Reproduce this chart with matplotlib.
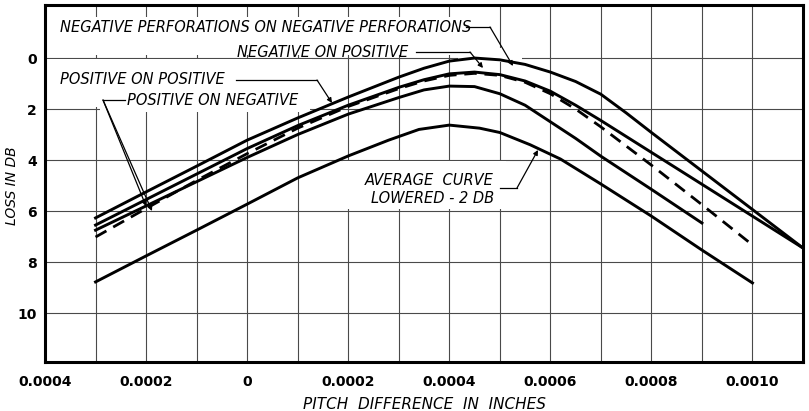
import matplotlib.pyplot as plt
from matplotlib.lines import Line2D
from matplotlib.patches import Rectangle

W, H = 809, 411

# pitch difference (inches) vs loss (dB)
neg_neg_x = [-0.0003, -0.0002, -0.0001, 0.0, 0.0001, 0.0002, 0.0003, 0.00035, 0.0004, 0.00045,
             0.0005, 0.00055, 0.0006, 0.00065, 0.0007, 0.00075, 0.0008, 0.0009, 0.001, 0.0011]
neg_neg_db = [6.27, 5.25, 4.24, 3.22, 2.35, 1.53, 0.75, 0.4, 0.12, 0.0,
              0.07, 0.25, 0.55, 0.92, 1.42, 2.15, 2.92, 4.43, 5.94, 7.45]

pos_pos_x = [-0.0003, -0.0002, -0.0001, 0.0, 0.0001, 0.0002, 0.0003, 0.00035, 0.0004, 0.00045,
             0.0005, 0.00055, 0.0006, 0.00065, 0.0007, 0.0008, 0.0009, 0.001, 0.0011]
pos_pos_db = [6.55, 5.55, 4.55, 3.55, 2.65, 1.85, 1.15, 0.85, 0.62, 0.55,
              0.65, 0.9, 1.3, 1.85, 2.45, 3.7, 4.95, 6.2, 7.45]

neg_pos_x = [-0.0003, -0.0002, -0.0001, 0.0, 0.0001, 0.0002, 0.0003, 0.00035, 0.0004, 0.00045,
             0.0005, 0.00055, 0.0006, 0.00065, 0.0007, 0.0008, 0.0009, 0.001]
neg_pos_db = [7.02, 5.9, 4.8, 3.75, 2.75, 1.9, 1.2, 0.9, 0.68, 0.6,
              0.68, 0.95, 1.4, 2.0, 2.7, 4.2, 5.75, 7.33]

pos_neg_x = [-0.0003, -0.0002, -0.0001, 0.0, 0.0001, 0.0002, 0.0003, 0.00035, 0.0004, 0.00045,
             0.0005, 0.00055, 0.0006, 0.00065, 0.0007, 0.0008, 0.0009]
pos_neg_db = [6.75, 5.8, 4.85, 3.9, 3.0, 2.2, 1.55, 1.25, 1.1, 1.12,
              1.4, 1.85, 2.5, 3.15, 3.85, 5.15, 6.47]

avg_x = [-0.0003, -0.0002, -0.0001, 0.0, 0.0001, 0.0002, 0.00028, 0.00034, 0.0004, 0.00046,
         0.0005, 0.00056, 0.00062, 0.0007, 0.0008, 0.0009, 0.001]
avg_db = [8.78, 7.76, 6.75, 5.73, 4.7, 3.84, 3.22, 2.8, 2.63, 2.75,
          2.92, 3.4, 3.96, 4.94, 6.2, 7.53, 8.82]

x_ticks = [-0.0004, -0.0002, 0.0, 0.0002, 0.0004, 0.0006, 0.0008, 0.0010]
x_tick_labels = ['0.0004', '0.0002', '0', '0.0002', '0.0004', '0.0006', '0.0008', '0.0010']
x_minor = [-0.0003, -0.0001, 0.0001, 0.0003, 0.0005, 0.0007, 0.0009, 0.0011]
y_ticks = [0, 2, 4, 6, 8, 10]
y_tick_labels = ['0', '2', '4', '6', '8', '10']


def fx(px):
    return px / W


def fy(py):
    return 1 - py / H


fig = plt.figure(figsize=(W / 100, H / 100), dpi=100)
ax = fig.add_axes([fx(45), fy(362), 758 / W, 357 / H])

ax.plot(avg_x, avg_db, color='black', lw=2.1, zorder=3)
ax.plot(pos_neg_x, pos_neg_db, color='black', lw=2.1, zorder=3)
ax.plot(neg_pos_x, neg_pos_db, color='black', lw=2.0, zorder=3, linestyle=(0, (4.5, 2.8)))
ax.plot(pos_pos_x, pos_pos_db, color='black', lw=2.1, zorder=3)
ax.plot(neg_neg_x, neg_neg_db, color='black', lw=2.1, zorder=3)

ax.set_xlim(-0.0004, 0.0011)
ax.set_ylim(11.92, -2.08)
ax.set_xticks(x_ticks, x_tick_labels)
ax.set_xticks(x_minor, minor=True)
ax.set_yticks(y_ticks, y_tick_labels)
ax.set_axisbelow(True)
ax.xaxis.grid(True, which='both', color='#4a4a4a', lw=0.8)
ax.yaxis.grid(True, which='major', color='#4a4a4a', lw=0.8)
ax.tick_params(which='both', length=0)
ax.tick_params(axis='x', pad=9)
ax.tick_params(axis='y', pad=6)
for lab in ax.get_xticklabels() + ax.get_yticklabels():
    lab.set_fontweight('bold')
    lab.set_fontsize(10)
for sp in ax.spines.values():
    sp.set_linewidth(2.2)

ax.set_xlabel('PITCH  DIFFERENCE  IN  INCHES', fontsize=11, style='italic', labelpad=6)
ax.set_ylabel('LOSS IN DB', fontsize=10, style='italic', va='center')
ax.yaxis.set_label_coords((12 - 45) / 758, (362 - 186) / 357)

# white areas behind the labels (hide grid, keep curves on top)
for x0, y0, x1, y1 in [(46, 17, 495, 55), (46, 59, 312, 107), (100, 97, 310, 112),
                       (458, 48, 522, 62), (343, 161, 506, 209)]:
    ax.add_patch(Rectangle((fx(x0), fy(y1)), fx(x1) - fx(x0), fy(y0) - fy(y1),
                           transform=fig.transFigure, facecolor='white', edgecolor='none',
                           zorder=1.5, clip_on=False))

txt = dict(transform=fig.transFigure, fontsize=10.5, style='italic', va='center', zorder=4)
ax.text(fx(60), fy(27), 'NEGATIVE PERFORATIONS ON NEGATIVE PERFORATIONS', ha='left', **txt)
ax.text(fx(237), fy(52), 'NEGATIVE ON POSITIVE', ha='left', **txt)
ax.text(fx(60), fy(80), 'POSITIVE ON POSITIVE', ha='left', **txt)
ax.text(fx(127), fy(100), 'POSITIVE ON NEGATIVE', ha='left', **txt)
ax.text(fx(494), fy(189.5), 'AVERAGE  CURVE\nLOWERED - 2 DB', ha='right',
        multialignment='right', linespacing=1.25, **txt)

# leader lines: (horizontal part, then slanted part to the curve)
leaders = [
    [(466, 27), (490, 27), (513, 66)],
    [(416, 52), (470, 52), (483, 68)],
    [(236, 80), (317, 80), (332, 103)],
    [(125, 100), (103, 100), (146, 206)],
    [(103, 100), (152, 211)],
    [(500, 188), (517, 188), (538, 150)],
]
for pts in leaders:
    xs = [fx(p[0]) for p in pts]
    ys = [fy(p[1]) for p in pts]
    ax.add_line(Line2D(xs[:-1], ys[:-1], transform=fig.transFigure, color='black',
                       lw=0.9, zorder=4, clip_on=False))
    ax.annotate('', xy=(xs[-1], ys[-1]), xytext=(xs[-2], ys[-2]),
                xycoords='figure fraction', textcoords='figure fraction',
                arrowprops=dict(arrowstyle='-|>', color='black', lw=0.9,
                                mutation_scale=7, shrinkA=0, shrinkB=0),
                zorder=4)

fig.savefig('out.png', dpi=100)
